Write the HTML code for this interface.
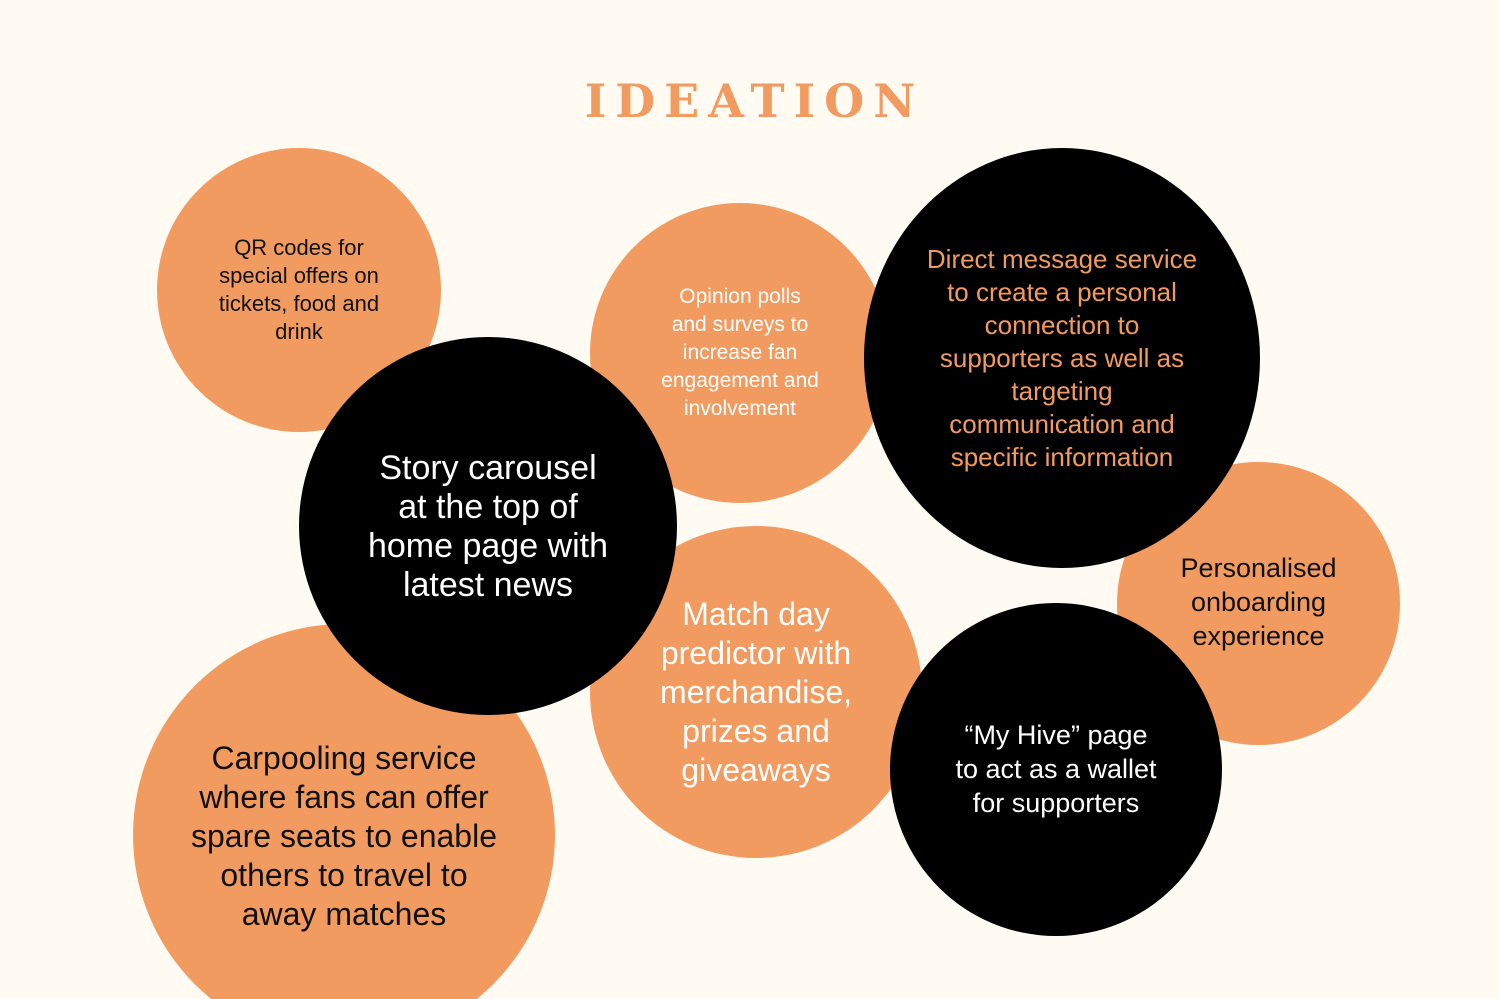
<!DOCTYPE html>
<html><head><meta charset="utf-8"><style>
html,body{margin:0;padding:0;width:1500px;height:999px;overflow:hidden}
body{background:#fffbf3;position:relative;font-family:"Liberation Sans","DejaVu Sans",sans-serif}
.t{position:absolute;top:74px;left:0;width:1500px;text-align:center;font-family:"DejaVu Serif","Liberation Serif",serif;font-weight:bold;font-size:46px;letter-spacing:9px;color:#f29b60;padding-left:9px;box-sizing:border-box}
.c{position:absolute;border-radius:50%;display:flex;align-items:center;justify-content:center;text-align:center;white-space:nowrap}
.o{background:#f29b60}.b{background:#000}
</style></head><body>
<div class="t">IDEATION</div>
<div class="c o" style="left:157px;top:148px;width:284px;height:284px;font-size:22px;line-height:28px;color:#111"><div style="margin-top:0px">QR codes for<br>special offers on<br>tickets, food and<br>drink</div></div>
<div class="c o" style="left:133px;top:624px;width:422px;height:422px;font-size:32px;line-height:39px;color:#111"><div style="margin-top:2px">Carpooling service<br>where fans can offer<br>spare seats to enable<br>others to travel to<br>away matches</div></div>
<div class="c o" style="left:590px;top:203px;width:300px;height:300px;font-size:21px;line-height:28px;color:#fff"><div style="margin-top:0px">Opinion polls<br>and surveys to<br>increase fan<br>engagement and<br>involvement</div></div>
<div class="c o" style="left:590px;top:526px;width:332px;height:332px;font-size:32px;line-height:39px;color:#fff"><div style="margin-top:0px">Match day<br>predictor with<br>merchandise,<br>prizes and<br>giveaways</div></div>
<div class="c b" style="left:299px;top:337px;width:378px;height:378px;font-size:34px;line-height:39px;color:#fff"><div style="margin-top:2px">Story carousel<br>at the top of<br>home page with<br>latest news</div></div>
<div class="c o" style="left:1117px;top:462px;width:283px;height:283px;font-size:27px;line-height:34px;color:#111"><div style="margin-top:-3px">Personalised<br>onboarding<br>experience</div></div>
<div class="c b" style="left:864px;top:148px;width:396px;height:420px;font-size:26px;line-height:33px;color:#f29b60"><div style="margin-top:0px">Direct message service<br>to create a personal<br>connection to<br>supporters as well as<br>targeting<br>communication and<br>specific information</div></div>
<div class="c b" style="left:890px;top:603px;width:332px;height:333px;font-size:27px;line-height:34px;color:#fff"><div style="margin-top:-2px">“My Hive” page<br>to act as a wallet<br>for supporters</div></div>
</body></html>
